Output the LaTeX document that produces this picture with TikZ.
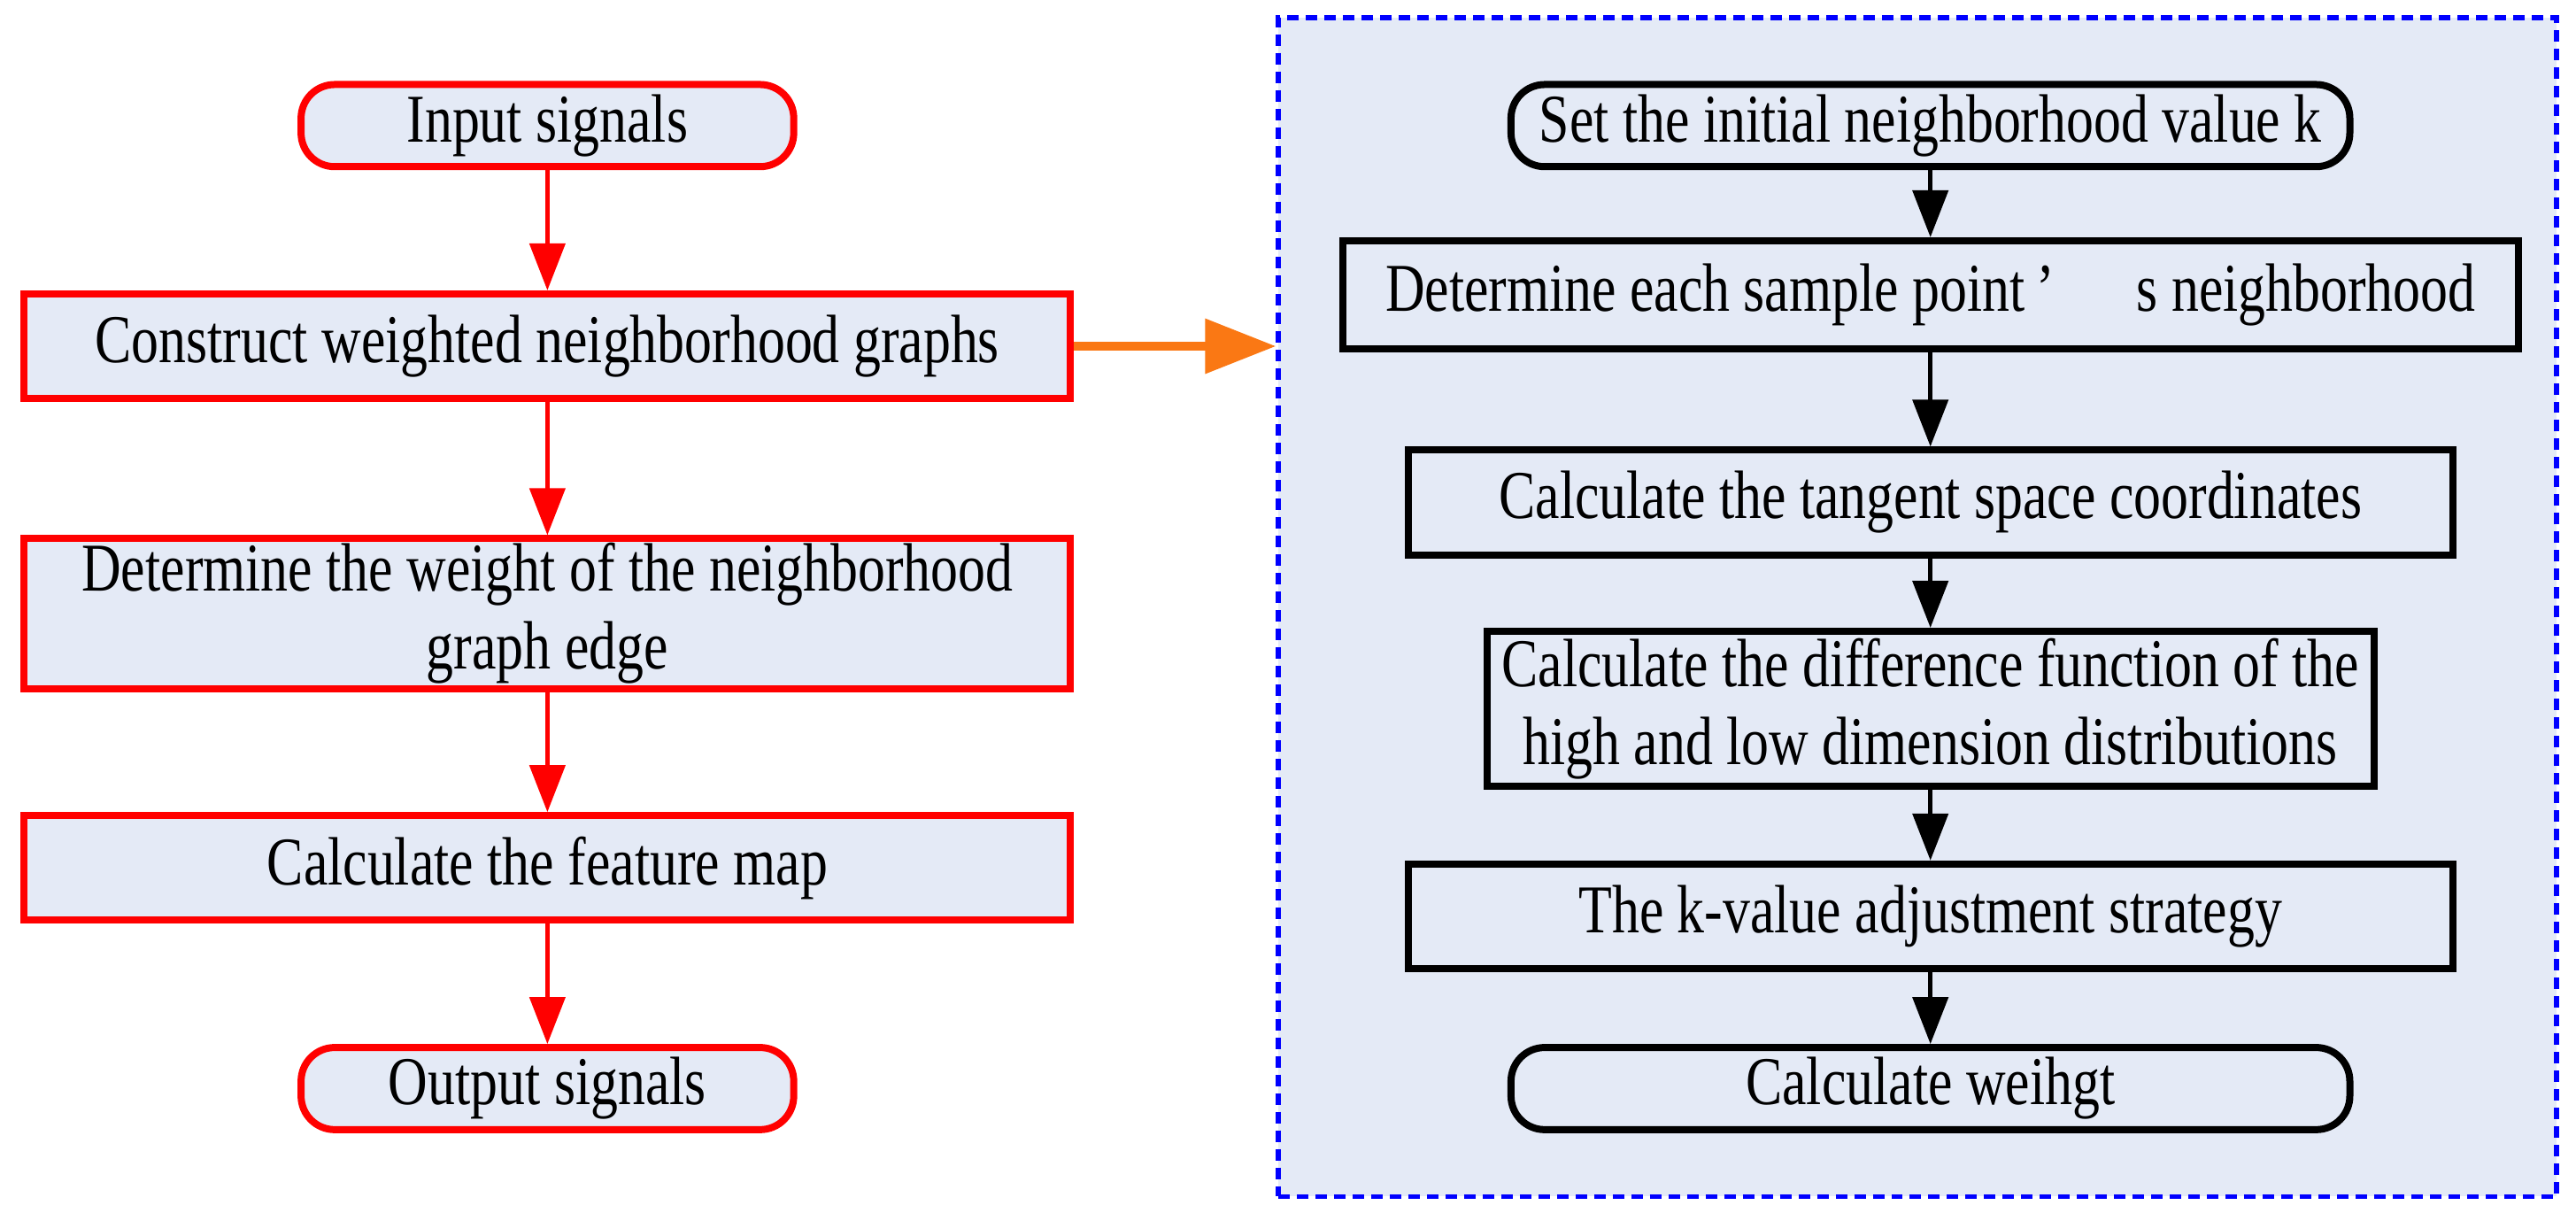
\documentclass[tikz,border=0pt]{standalone}
\usepackage{fontspec}
\setmainfont{Liberation Serif}[FakeStretch=0.8]
\usetikzlibrary{positioning,arrows.meta}
\definecolor{boxfill}{RGB}{228,234,246}
\definecolor{orangeline}{RGB}{250,120,20}
\tikzset{
    step/.style={%
        draw=#1, fill=boxfill, line width=0.8mm, inner sep=1pt,
        minimum height=65*0.0182cm,
        font=\fontsize{22}{25}\selectfont, align=center
        },
    step/.default=red,
    term/.style={step=#1, rounded corners=0.38cm, minimum height=51*0.0182cm},
    term/.default=red,
    flow/.style={draw=#1, line width=0.45mm, -{Triangle[length=5.3mm,width=4mm]}},
    flow/.default=red
}
\begin{document}
\begin{tikzpicture}[x=0.0182cm, y=-0.0182cm]
\useasboundingbox (0,0) rectangle (1600,753);

% left chain
\node[term, minimum width=306*0.0182cm] (In) at (340,78) {Input signals};
\node[step, minimum width=650*0.0182cm] (Con) at (340,215) {Construct weighted neighborhood graphs};
\node[step, minimum width=650*0.0182cm, minimum height=93*0.0182cm] (Wgt) at (340,381) {Determine the weight of the neighborhood\\graph edge};
\node[step, minimum width=650*0.0182cm] (Map) at (340,539) {Calculate the feature map};
\node[term, minimum width=306*0.0182cm] (Out) at (340,676) {Output signals};

\draw[flow] (In) -- (Con);
\draw[flow] (Con) -- (Wgt);
\draw[flow] (Wgt) -- (Map);
\draw[flow] (Map) -- (Out);

% detail frame
\node[draw=blue, fill=boxfill, dash pattern=on 1.3mm off 0.8mm, line width=0.55mm,
  minimum width=794*0.0182cm, minimum height=732*0.0182cm] (Frame) at (1191,377) {};

\draw[draw=orangeline, line width=1mm, -{Triangle[length=8mm,width=6mm]}] (Con) -- (Frame.west |- Con);

\node[term=black, minimum width=521*0.0182cm] (K) at (1199,78) {Set the initial neighborhood value k};
\node[step=black, minimum width=730*0.0182cm, minimum height=67*0.0182cm] (Nb) at (1199,183) {Determine each sample point\,'\hspace{1.2em}s neighborhood};
\node[step=black, minimum width=649*0.0182cm] (Tan) at (1199,312) {Calculate the tangent space coordinates};
\node[step=black, minimum width=551*0.0182cm, minimum height=96*0.0182cm] (Dif) at (1199,440) {Calculate the difference function of the\\high and low dimension distributions};
\node[step=black, minimum width=649*0.0182cm] (Adj) at (1199,569) {The k-value adjustment strategy};
\node[term=black, minimum width=521*0.0182cm] (W) at (1199,676) {Calculate weihgt};

\draw[flow=black] (K) -- (Nb);
\draw[flow=black] (Nb) -- (Tan);
\draw[flow=black] (Tan) -- (Dif);
\draw[flow=black] (Dif) -- (Adj);
\draw[flow=black] (Adj) -- (W);
\end{tikzpicture}
\end{document}
